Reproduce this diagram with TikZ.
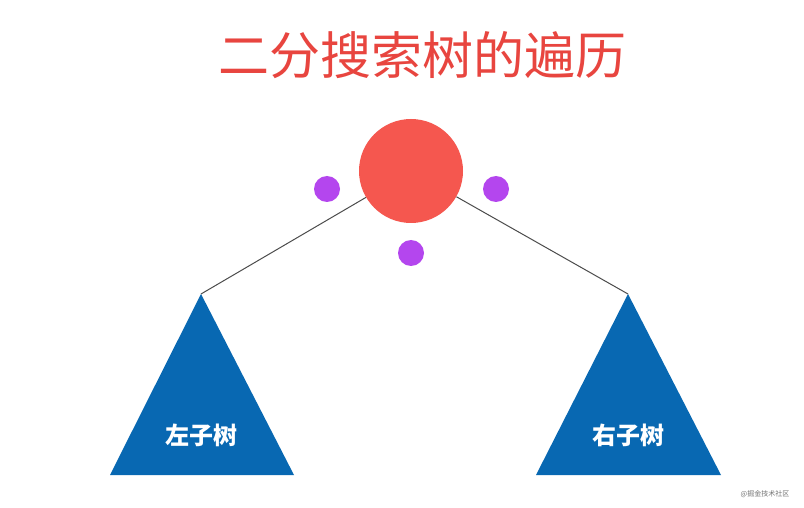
\documentclass[tikz,border=0pt]{standalone}
\usepackage{fontspec}
\newfontfamily\cjk{Noto Sans CJK SC}
\usetikzlibrary{positioning}
\definecolor{titlered}{HTML}{E8453F}
\definecolor{rootred}{HTML}{F5574F}
\definecolor{dotpurple}{HTML}{B446EE}
\definecolor{treeblue}{HTML}{0868B2}

\begin{document}
\begin{tikzpicture}[x=1pt, y=-1pt]
	\tikzset{
		root/.style = {circle, fill=rootred, minimum size=104pt, inner sep=0pt},
		visit/.style = {circle, fill=dotpurple, minimum size=26pt, inner sep=0pt},
		subtree/.style = {fill=treeblue},
		label/.style = {text=white, font=\cjk\bfseries\fontsize{24}{24}\selectfont},
		edge/.style = {draw=black!70, line width=1pt}
	}
	\useasboundingbox[fill=white] (0, 0) rectangle (804, 508);
	% title
	\node[text=titlered, font=\cjk\fontsize{51}{51}\selectfont] (title) at (422, 55) {二分搜索树的遍历};
	% root and the three visit points
	\node[root] (root) at (411, 171) {};
	\node[visit] (pre) at (327, 189) {};
	\node[visit] (post) at (496, 189) {};
	\node[visit] (in) at (411, 253) {};
	% subtrees
	\coordinate (ltop) at (201, 294);
	\coordinate (rtop) at (628, 294);
	\fill[subtree] (ltop) -- (110, 475) -- (294, 475) -- cycle;
	\fill[subtree] (rtop) -- (536, 475) -- (721, 475) -- cycle;
	\node[label] (left) at (201, 435) {左子树};
	\node[label] (right) at (628, 435) {右子树};
	\draw[edge] (ltop) -- (root);
	\draw[edge] (rtop) -- (root);
	% watermark
	\node[text=black!55, font=\cjk\fontsize{7}{7}\selectfont] (mark) at (765, 494) {@掘金技术社区};
\end{tikzpicture}
\end{document}
